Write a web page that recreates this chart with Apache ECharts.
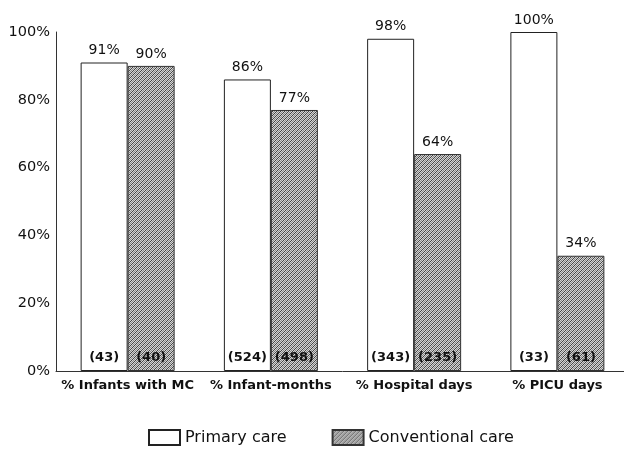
<!DOCTYPE html>
<html><head><meta charset="utf-8">
<script src="https://cdn.jsdelivr.net/npm/echarts@6/dist/echarts.min.js"></script>
<style>html,body{margin:0;padding:0;background:#fff;overflow:hidden}#c{width:634px;height:450px}</style>
</head><body><div id="c"></div>
<script>
const categories = ['% Infants with MC', '% Infant-months', '% Hospital days', '% PICU days'];
const primaryCare = [91, 86, 98, 100];
const conventionalCare = [90, 77, 64, 34];
const primaryN = [43, 524, 343, 33];
const conventionalN = [40, 498, 235, 61];
const yTicks = [0, 20, 40, 60, 80, 100];

function hatch() {
  const c = document.createElement('canvas');
  c.width = 4; c.height = 4;
  const g = c.getContext('2d');
  g.fillStyle = '#d4d4d4'; g.fillRect(0, 0, 4, 4);
  g.fillStyle = '#444';
  for (let i = 0; i < 4; i++) g.fillRect(i, 3 - i, 1, 1);
  g.fillStyle = '#888';
  for (let i = 0; i < 4; i++) g.fillRect(i, (5 - i) % 4, 1, 1);
  return c;
}
const pat = { image: hatch(), repeat: 'repeat' };

const chart = echarts.init(document.getElementById('c'));
const valFont = { fontFamily: 'DejaVu Sans', fontSize: 14, color: '#111' };
const cntFont = { fontFamily: 'DejaVu Sans', fontWeight: 'bold', fontSize: 13, color: '#111' };
function mk(name, vals, ns, style) {
  return {
    name, type: 'bar', barWidth: 47, barGap: '0%',
    itemStyle: style,
    data: vals.map((v, i) => ({ value: v, n: ns[i] })),
    label: { show: true, position: 'top', distance: 5, formatter: p => p.value + '%', ...valFont }
  };
}
const s1 = mk('Primary care', primaryCare, primaryN, { color: '#fff', borderColor: '#222', borderWidth: 1 });
const s2 = mk('Conventional care', conventionalCare, conventionalN, { color: pat, borderColor: '#333', borderWidth: 1 });
function cnt(name, ns) {
  return {
    name: name, type: 'bar', barWidth: 47, barGap: '0%', xAxisIndex: 1,
    itemStyle: { color: 'transparent' }, silent: true,
    data: ns.map(n => ({ value: 0.001, n })),
    label: { show: true, position: 'insideBottom', distance: 7, formatter: p => '(' + p.data.n + ')', ...cntFont }
  };
}
chart.setOption({
  animation: false,
  grid: { left: 56, width: 573, top: 32, height: 339 },
  legend: {
    data: ['Primary care', 'Conventional care'],
    top: 424, left: 143, itemWidth: 31, itemHeight: 15, itemGap: 45,
    textStyle: { fontFamily: 'DejaVu Sans', fontSize: 16, color: '#111' },
    icon: 'rect'
  },
  xAxis: [{
    type: 'category', data: categories,
    axisLine: { lineStyle: { color: '#333', width: 1 } }, axisTick: { show: false },
    axisLabel: { interval: 0, fontFamily: 'DejaVu Sans', fontWeight: 'bold', fontSize: 13, color: '#111', margin: 8 }
  }, {
    type: 'category', data: categories, show: false
  }],
  yAxis: {
    type: 'value', min: 0, max: 100, interval: 20,
    axisLine: { show: true, lineStyle: { color: '#333' } }, axisTick: { show: false },
    splitLine: { show: false },
    axisLabel: { formatter: v => yTicks.includes(v) ? v + '%' : '', fontFamily: 'DejaVu Sans', fontSize: 14.5, color: '#111', margin: 6 }
  },
  series: [s1, s2, cnt('n1', primaryN), cnt('n2', conventionalN)]
});
</script></body></html>
